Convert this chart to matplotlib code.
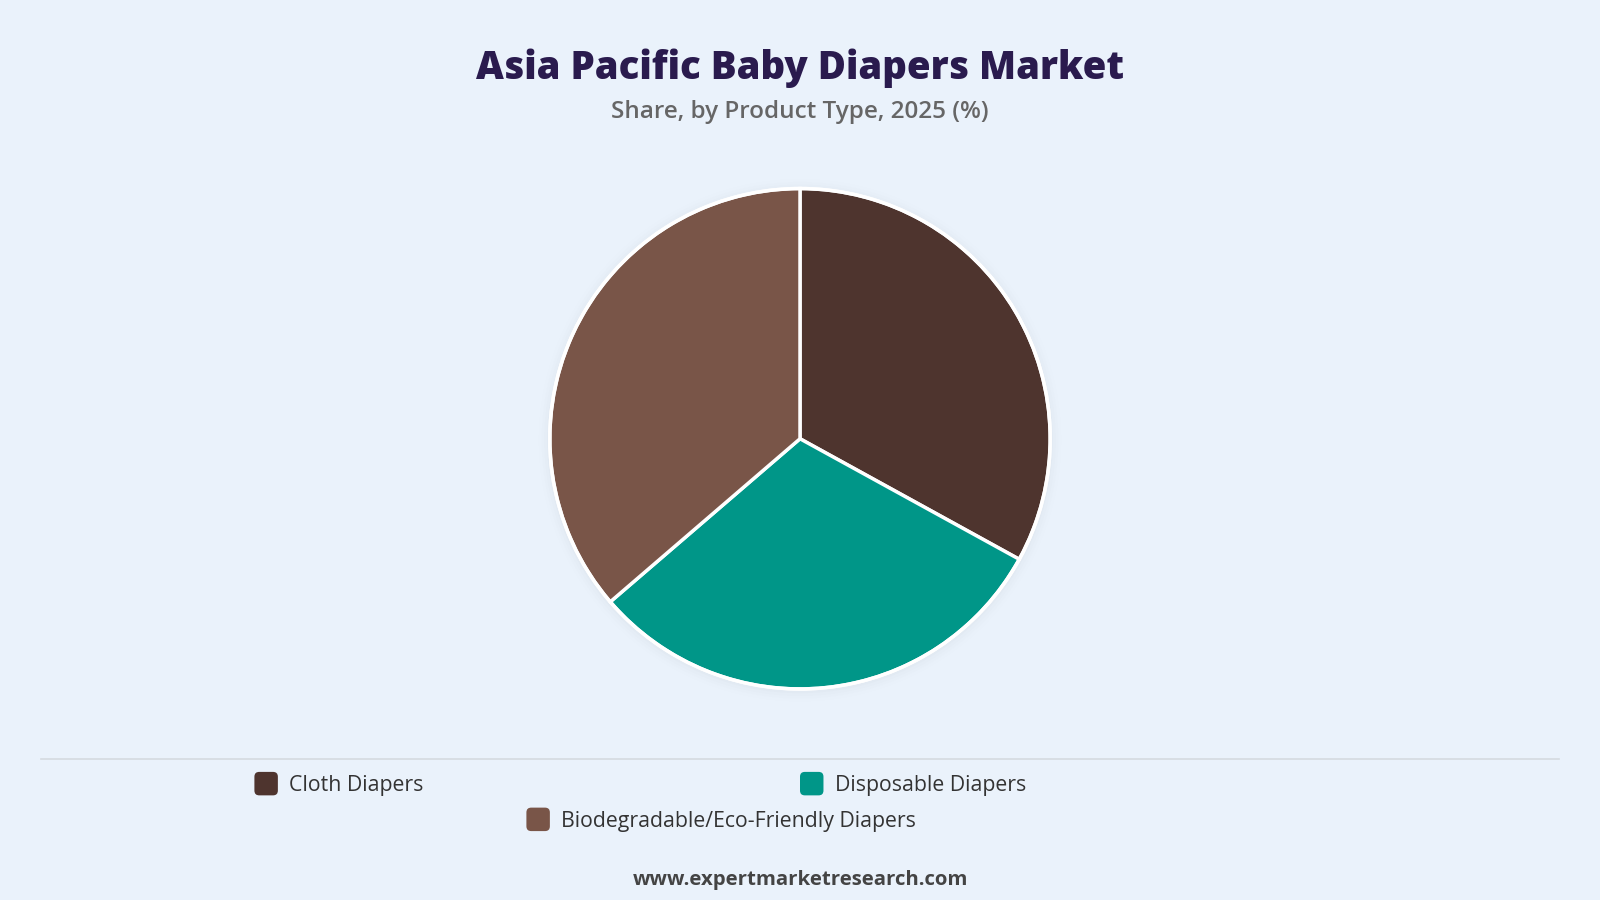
#!/usr/bin/env python3

"""Asia Pacific baby diapers market share pie chart."""

import matplotlib as mpl
import matplotlib.pyplot as plt
from matplotlib.patches import Circle, FancyBboxPatch
from matplotlib.lines import Line2D

mpl.use("Agg")

# Data
categories = ["Cloth Diapers", "Disposable Diapers", "Biodegradable/Eco-Friendly Diapers"]
shares = [33.0, 30.7, 36.3]
colors = ["#4E342E", "#009688", "#795548"]

BG = "#EAF2FB"
FONT = ["Open Sans", "DejaVu Sans"]


def main():
    """Entry point."""
    fig = plt.figure(figsize=(16, 9), dpi=100, facecolor=BG)

    # Pie axes, square in pixels
    r_frac = 0.278
    h = 2 * r_frac
    w = h * 9 / 16
    ax = fig.add_axes([0.5 - w / 2, 0.5125 - r_frac, w, h])
    ax.set_facecolor(BG)
    ax.axis("off")

    # soft shadow around the pie
    for i, a in enumerate([0.03, 0.022, 0.015, 0.01]):
        ax.add_patch(Circle((0, -0.006), 1.0 + 0.011 * (i + 1), color="#9aa4b0",
                            alpha=a, lw=0, zorder=0, clip_on=False))

    wedges, _ = ax.pie(shares, colors=colors, startangle=90, counterclock=False,
                       wedgeprops=dict(edgecolor="white", linewidth=2.5), radius=1.0)
    for wdg in wedges:
        wdg.set_clip_on(False)
    ax.add_patch(Circle((0, 0), 1.0, fill=False, edgecolor="white", lw=2.5,
                        zorder=5, clip_on=False))
    ax.set_xlim(-1.0, 1.0)
    ax.set_ylim(-1.0, 1.0)
    ax.set_aspect("equal")

    # titles
    fig.text(0.5, 0.924, "Asia Pacific Baby Diapers Market", ha="center", va="center",
             fontsize=27.6, fontweight="heavy", color="#2A1B4E", family=FONT)
    fig.text(0.5, 0.876, "Share, by Product Type, 2025 (%)", ha="center", va="center",
             fontsize=17.5, fontweight="semibold", color="#666666", family=FONT)

    # divider above legend
    fig.add_artist(Line2D([0.0255, 0.9745], [0.1565, 0.1565], transform=fig.transFigure,
                          color="#D5DAE0", lw=1.2))

    # legend
    positions = [(0.159, 0.1293), (0.5, 0.1293), (0.329, 0.0896)]
    sq_w = 23 / 1568
    sq_h = 23 / 882
    for (x, y), label, col in zip(positions, categories, colors):
        fig.add_artist(FancyBboxPatch((x, y - sq_h / 2), sq_w, sq_h,
                                      boxstyle="round,pad=0,rounding_size=0.003",
                                      transform=fig.transFigure, facecolor=col,
                                      edgecolor="none", mutation_aspect=16 / 9))
        fig.text(x + sq_w + 0.007, y - 0.002, label, ha="left", va="center",
                 fontsize=15.3, color="#333333", family=FONT)

    # footer
    fig.text(0.5, 0.022, "www.expertmarketresearch.com", ha="center", va="center",
             fontsize=14.7, fontweight="bold", color="#444444", family=FONT)

    fig.savefig("out.png", dpi=100, facecolor=BG)


if __name__ == "__main__":
    main()
